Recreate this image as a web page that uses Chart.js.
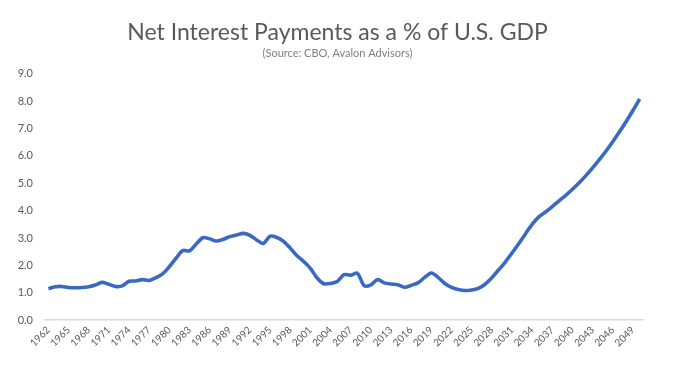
<!DOCTYPE html>
<html lang="en">
<head>
  <meta charset="UTF-8" />
  <title>Net Interest Payments as a % of U.S. GDP</title>
  <script src="https://cdn.jsdelivr.net/npm/chart.js"></script>
  <style>
    html, body { margin: 0; padding: 0; background: #fff; }
    .wrap { width: 675px; height: 368px; position: relative; }
  </style>
</head>
<body>
  <div class="wrap">
    <canvas id="interestChart"></canvas>
  </div>

  <script>
    // years 1962 - 2050 (CBO history + projection)
    const years = [
      1962, 1963, 1964, 1965, 1966, 1967, 1968, 1969, 1970, 1971,
      1972, 1973, 1974, 1975, 1976, 1977, 1978, 1979, 1980, 1981,
      1982, 1983, 1984, 1985, 1986, 1987, 1988, 1989, 1990, 1991,
      1992, 1993, 1994, 1995, 1996, 1997, 1998, 1999, 2000, 2001,
      2002, 2003, 2004, 2005, 2006, 2007, 2008, 2009, 2010, 2011,
      2012, 2013, 2014, 2015, 2016, 2017, 2018, 2019, 2020, 2021,
      2022, 2023, 2024, 2025, 2026, 2027, 2028, 2029, 2030, 2031,
      2032, 2033, 2034, 2035, 2036, 2037, 2038, 2039, 2040, 2041,
      2042, 2043, 2044, 2045, 2046, 2047, 2048, 2049, 2050
    ];

    // net interest, % of GDP
    const netInterest = [
      1.15, 1.22, 1.23, 1.19, 1.18, 1.19, 1.22, 1.28, 1.38, 1.31,
      1.23, 1.25, 1.42, 1.43, 1.48, 1.45, 1.55, 1.69, 1.95, 2.26,
      2.54, 2.53, 2.78, 3.01, 2.97, 2.89, 2.95, 3.05, 3.11, 3.17,
      3.10, 2.93, 2.80, 3.07, 3.02, 2.88, 2.63, 2.35, 2.14, 1.89,
      1.54, 1.33, 1.34, 1.41, 1.66, 1.64, 1.71, 1.26, 1.29, 1.48,
      1.36, 1.32, 1.29, 1.20, 1.27, 1.36, 1.56, 1.72, 1.56, 1.34,
      1.20, 1.12, 1.08, 1.10, 1.16, 1.31, 1.55, 1.83, 2.12, 2.45,
      2.79, 3.15, 3.50, 3.77, 3.95, 4.15, 4.36, 4.56, 4.78, 5.02,
      5.28, 5.56, 5.86, 6.18, 6.52, 6.88, 7.26, 7.66, 8.08
    ];

    // axis
    const yMin = 0;
    const yMax = 9;
    const yStep = 1;
    const labelEvery = 3;

    const textGray = "#595959";

    new Chart(document.getElementById("interestChart"), {
      type: "line",
      data: {
        labels: years.map(String),
        datasets: [{
          label: "Net Interest",
          data: netInterest,
          borderColor: "#3a69c4",
          borderWidth: 3.6,
          pointRadius: 0,
          fill: false,
          tension: 0.3
        }]
      },
      options: {
        responsive: true,
        maintainAspectRatio: false,
        animation: false,
        layout: { padding: { top: 19, left: 8, right: 8, bottom: 15 } },
        plugins: {
          legend: { display: false },
          tooltip: { enabled: false },
          title: {
            display: true,
            text: "Net Interest Payments as a % of U.S. GDP",
            color: textGray,
            font: { family: "Lato", size: 23, weight: "normal" },
            padding: { top: 0, bottom: 0 }
          },
          subtitle: {
            display: true,
            text: "(Source: CBO, Avalon Advisors)",
            color: "#7f7f7f",
            font: { family: "Lato", size: 11 },
            padding: { top: 0, bottom: 14 }
          }
        },
        scales: {
          x: {
            offset: true,
            grid: { display: false, drawTicks: false },
            border: { display: true, color: "#d9d9d9", width: 1.5 },
            ticks: {
              autoSkip: false,
              maxRotation: 45,
              minRotation: 45,
              padding: 4,
              color: textGray,
              font: { family: "Lato", size: 10 },
              callback: function (val, i) {
                return (years[i] - years[0]) % labelEvery === 0 ? years[i] : "";
              }
            }
          },
          y: {
            min: yMin,
            max: yMax,
            grid: { display: false, drawTicks: false },
            border: { display: false },
            afterFit: s => { s.width = 37; },
            ticks: {
              stepSize: yStep,
              padding: 12,
              color: textGray,
              font: { family: "Lato", size: 11 },
              callback: v => v.toFixed(1)
            }
          },
          // empty right axis, only to leave the white margin on the right
          yRight: {
            position: "right",
            grid: { display: false, drawTicks: false },
            border: { display: false },
            ticks: { display: false },
            afterFit: s => { s.width = 24; }
          }
        }
      }
    });
  </script>
</body>
</html>
